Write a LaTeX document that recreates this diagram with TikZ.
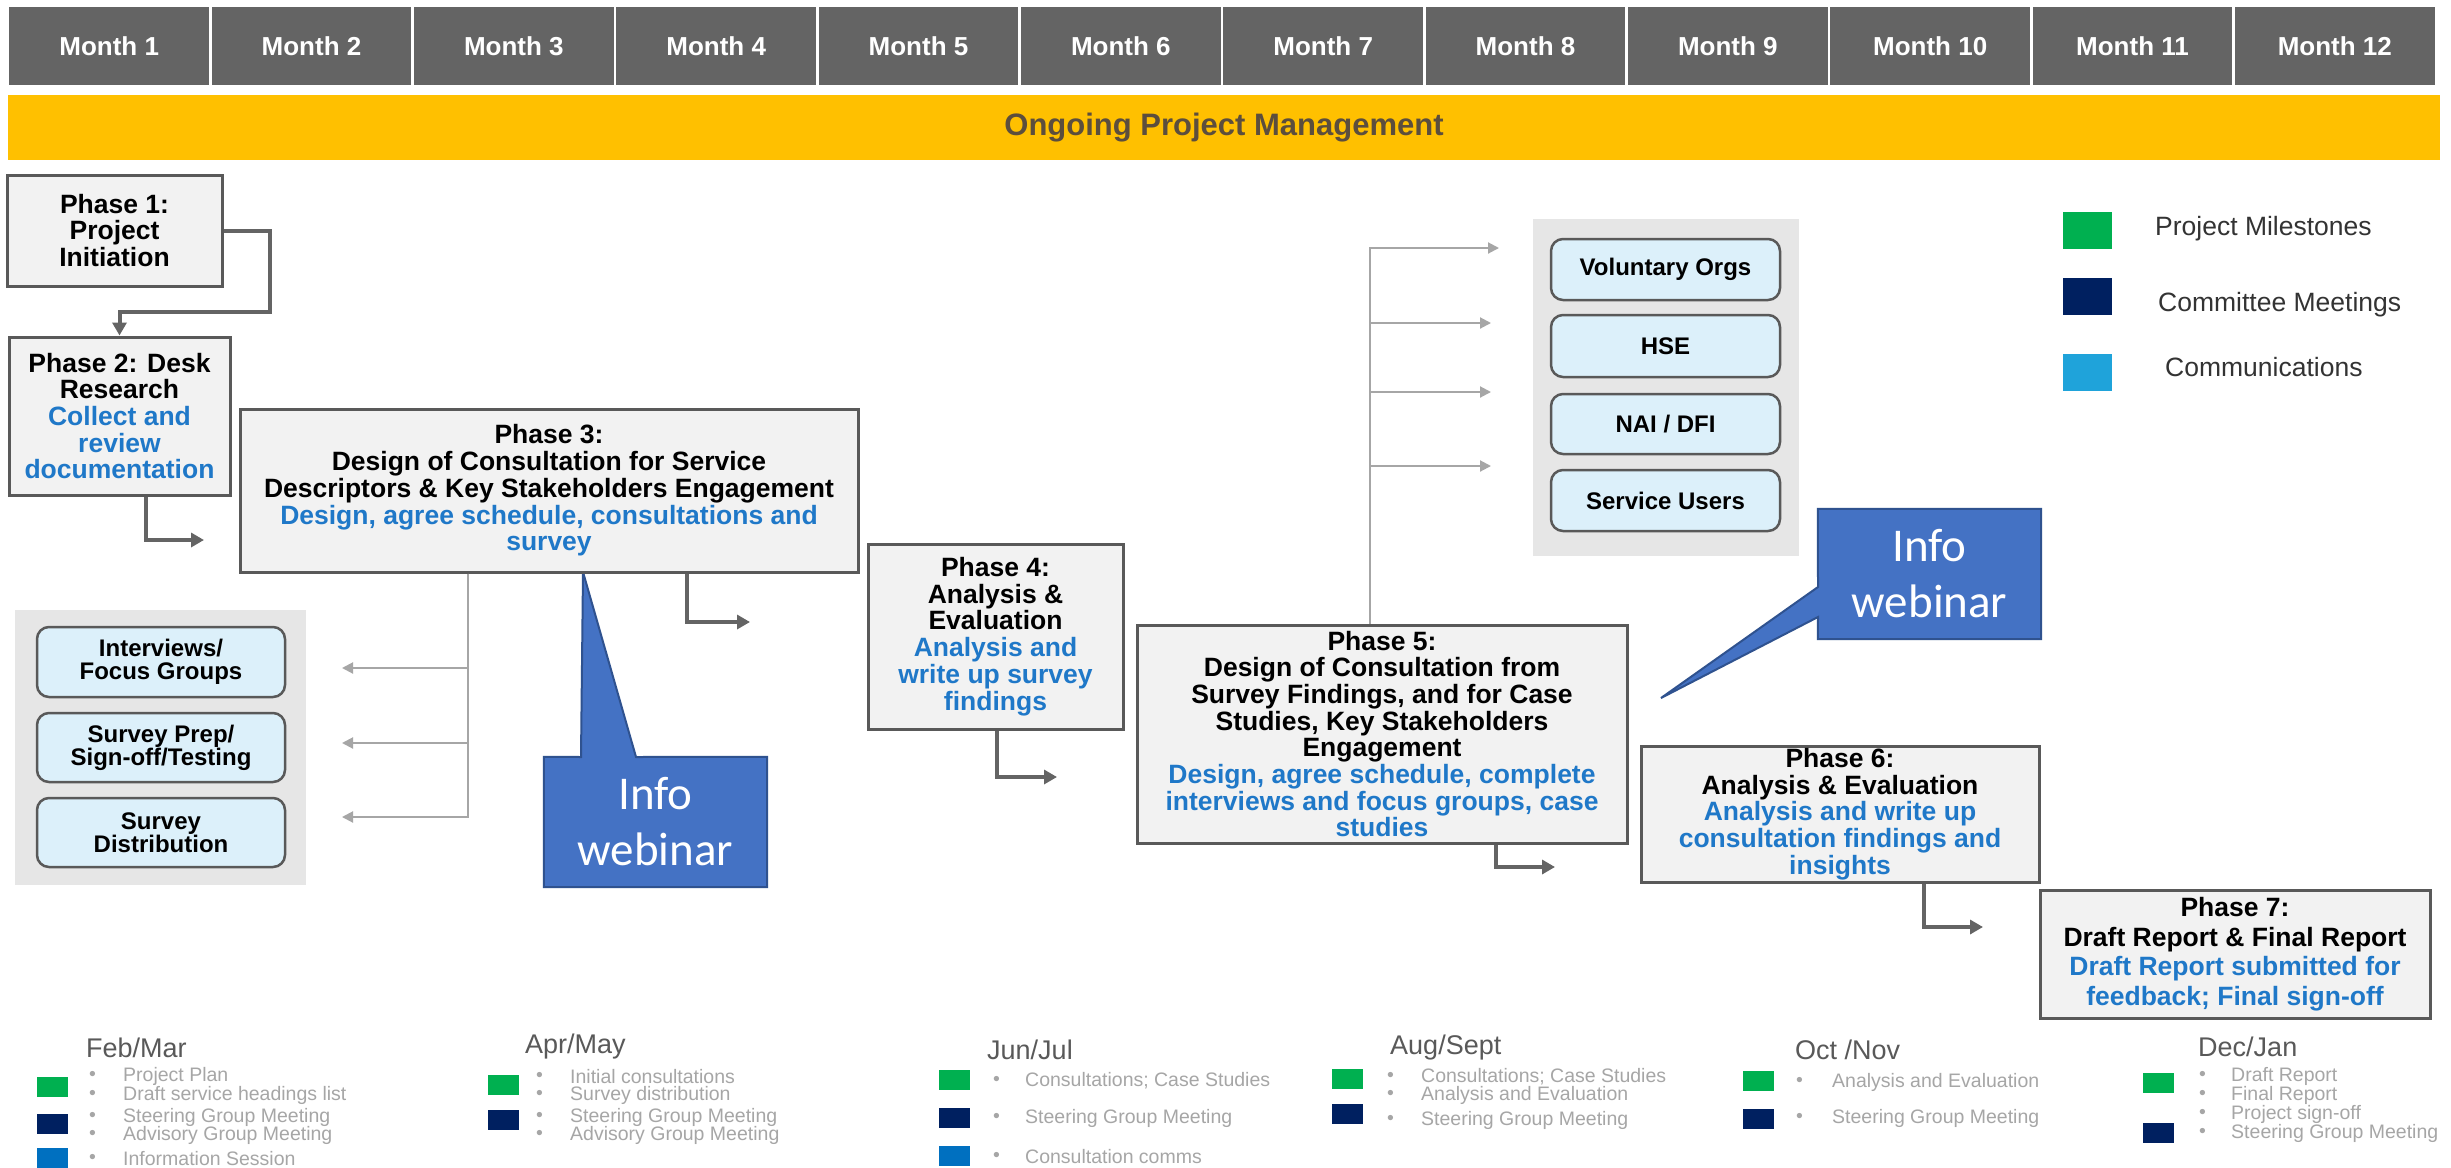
\documentclass[tikz,border=0pt]{standalone}
\usepackage{fontspec}
\setmainfont{Liberation Sans}
\newfontfamily\calib{Carlito}
\usetikzlibrary{arrows.meta,backgrounds}
\definecolor{barGrey}{HTML}{646464}
\definecolor{pmYellow}{HTML}{FFC000}
\definecolor{pmText}{HTML}{5C4E3D}
\definecolor{boxFill}{HTML}{F2F2F2}
\definecolor{boxLine}{HTML}{595959}
\definecolor{descBlue}{HTML}{1F78C8}
\definecolor{subFill}{HTML}{DCF0FA}
\definecolor{panelGrey}{HTML}{E6E6E6}
\definecolor{arrowDark}{HTML}{646464}
\definecolor{arrowLight}{HTML}{A6A6A6}
\definecolor{webBlue}{HTML}{4472C4}
\definecolor{webEdge}{HTML}{2F528F}
\definecolor{msGreen}{HTML}{00B050}
\definecolor{cmNavy}{HTML}{002060}
\definecolor{coBlue}{HTML}{1FA3DA}
\definecolor{isBlue}{HTML}{0070C0}
\definecolor{legText}{HTML}{333333}
\definecolor{titleGrey}{HTML}{595959}
\definecolor{itemGrey}{HTML}{A6A6A6}
\newcommand{\dblue}[1]{\textcolor{descBlue}{#1}}
\begin{document}
\begin{tikzpicture}[x=1pt,y=-1pt,
  month/.style={rectangle, draw=white, line width=2.5pt, fill=barGrey, minimum width=202.33pt, minimum height=80pt, inner sep=0pt, text=white, font=\bfseries\fontsize{26}{26}\selectfont},
  pmbar/.style={rectangle, fill=pmYellow, minimum width=2432pt, minimum height=65pt, inner sep=0pt, text=pmText, font=\bfseries\fontsize{31}{31}\selectfont},
  phase/.style={rectangle, draw=boxLine, line width=3pt, fill=boxFill, inner sep=0pt, align=center, font=\bfseries\fontsize{26.5}{26.7}\selectfont},
  subbox/.style={rectangle, rounded corners=12pt, draw=boxLine, line width=2.5pt, fill=subFill, inner sep=0pt, align=center, font=\bfseries\fontsize{24}{23}\selectfont},
  panel/.style={rectangle, fill=panelGrey, draw=none, inner sep=0pt},
  flow/.style={draw=arrowDark, line width=4pt, -{Triangle[length=13pt,width=14pt]}},
  branch/.style={draw=arrowLight, line width=2pt, -{Triangle[length=11pt,width=11pt]}},
  webinar/.style={rectangle, text=white, align=center, font=\calib\fontsize{47}{56}\selectfont, inner sep=0pt, minimum width=223pt, minimum height=130pt},
  callout/.style={fill=webBlue, draw=webEdge, line width=2pt, line join=miter},
  legsq/.style={rectangle, inner sep=0pt, minimum width=49pt, minimum height=37pt},
  leglabel/.style={anchor=west, inner sep=0pt, text=legText, font=\fontsize{26.5}{26.5}\selectfont},
  smsq/.style={rectangle, inner sep=0pt, minimum width=31pt, minimum height=20pt},
  grptitle/.style={anchor=west, inner sep=0pt, text=titleGrey, font=\fontsize{27}{27}\selectfont},
  grpitem/.style={anchor=west, inner sep=0pt, text=itemGrey, font=\fontsize{19.5}{19.5}\selectfont}
]
\useasboundingbox (0,0) rectangle (2451,1167);

% month bar
\foreach \i in {1,...,12} {
  \node[month] (m\i) at ({8+202.333*(\i-0.5)},46) {Month \i};
}
\node[pmbar] (pm) at (1224,127.5) {Ongoing Project Management};

% phases
\node[phase, minimum width=215pt, minimum height=111pt] (P1) at (114.5,230.5) {Phase 1:\\Project\\Initiation};
\node[phase, minimum width=221pt, minimum height=158pt] (P2) at (119.5,416) {Phase 2: Desk\\Research\\\dblue{Collect and}\\\dblue{review}\\\dblue{documentation}};
\node[phase, minimum width=618pt, minimum height=163pt] (P3) at (549,490.5) {Phase 3:\\Design of Consultation for Service\\Descriptors \& Key Stakeholders Engagement\\\dblue{Design, agree schedule, consultations and}\\\dblue{survey}};
\node[phase, minimum width=255pt, minimum height=185pt] (P4) at (995.5,636.5) {Phase 4:\\Analysis \&\\Evaluation\\\dblue{Analysis and}\\\dblue{write up survey}\\\dblue{findings}};
\node[phase, minimum width=490pt, minimum height=218pt] (P5) at (1382,734) {Phase 5:\\Design of Consultation from\\Survey Findings, and for Case\\Studies, Key Stakeholders\\Engagement\\\dblue{Design, agree schedule, complete}\\\dblue{interviews and focus groups, case}\\\dblue{studies}};
\node[phase, minimum width=398pt, minimum height=136pt] (P6) at (1840,814) {Phase 6:\\Analysis \& Evaluation\\\dblue{Analysis and write up}\\\dblue{consultation findings and}\\\dblue{insights}};
\node[phase, minimum width=390pt, minimum height=128pt, font=\bfseries\fontsize{26.5}{29.5}\selectfont] (P7) at (2235,954) {Phase 7:\\Draft Report \& Final Report\\\dblue{Draft Report submitted for}\\\dblue{feedback; Final sign-off}};

% left panel
\node[panel, minimum width=291pt, minimum height=275pt] (lp) at (160.5,747.5) {};
\node[subbox, minimum width=248pt, minimum height=70pt] (s1) at (161,662) {Interviews/\\Focus Groups};
\node[subbox, minimum width=248pt, minimum height=69pt] (s2) at (161,747.5) {Survey Prep/\\Sign-off/Testing};
\node[subbox, minimum width=248pt, minimum height=69pt] (s3) at (161,832.5) {Survey\\Distribution};

% right panel
\node[panel, minimum width=266pt, minimum height=337pt] (rp) at (1666,387.5) {};
\node[subbox, minimum width=229pt, minimum height=61pt] (r1b) at (1665.5,269.5) {Voluntary Orgs};
\node[subbox, minimum width=229pt, minimum height=62pt] (r2b) at (1665.5,346) {HSE};
\node[subbox, minimum width=229pt, minimum height=60pt] (r3b) at (1665.5,424) {NAI / DFI};
\node[subbox, minimum width=229pt, minimum height=61pt] (r4b) at (1665.5,500.5) {Service Users};

% connector ends
\coordinate (k1) at (270,312);
\coordinate (a23) at (204,540);
\coordinate (a34) at (750,622);
\coordinate (a45) at (1057,777);
\coordinate (a56) at (1555,867);
\coordinate (a67) at (1983,927);
\coordinate (v3) at ([xshift=-81pt]P3.south);
\coordinate (l1) at (342,668);
\coordinate (l2) at (342,743);
\coordinate (l3) at (342,817);
\coordinate (v5) at ([xshift=-12pt]P5.north);
\coordinate (t1) at (1499,248);
\coordinate (t2) at (1491,323);
\coordinate (t3) at (1491,392);
\coordinate (t4) at (1491,466);

% flow arrows
\draw[flow] (P1.east) -| (k1) -| (P2.north);
\draw[flow] ([xshift=26.5pt]P2.south) |- (a23);
\draw[flow] ([xshift=138pt]P3.south) |- (a34);
\draw[flow] ([xshift=1.5pt]P4.south) |- (a45);
\draw[flow] ([xshift=114pt]P5.south) |- (a56);
\draw[flow] ([xshift=84pt]P6.south) |- (a67);

% branches
\draw[branch] (v3) |- (l1);
\draw[branch] (v3) |- (l2);
\draw[branch] (v3) |- (l3);
\draw[branch] (v5) |- (t1);
\draw[branch] (v5) |- (t2);
\draw[branch] (v5) |- (t3);
\draw[branch] (v5) |- (t4);

% callouts
\node[webinar] (W1) at (655.5,822) {Info\\webinar};
\node[webinar] (W2) at (1929.5,574) {Info\\webinar};
\begin{pgfonlayer}{background}
\fill[white] (0,0) rectangle (2451,1167);
\filldraw[callout] (W1.north west) -- (581,757) -- (583,572) -- (636,757) -- (W1.north east) -- (W1.south east) -- (W1.south west) -- cycle;
\filldraw[callout] (W2.north west) -- (W2.north east) -- (W2.south east) -- (W2.south west) -- (1818,617) -- (1661,698) -- (1818,587) -- cycle;
\end{pgfonlayer}

% top-right legend
\node[legsq, fill=msGreen] (q1) at (2087.5,230) {};
\node[legsq, fill=cmNavy] (q2) at (2087.5,296.5) {};
\node[legsq, fill=coBlue] (q3) at (2087.5,372) {};
\node[leglabel] (q1l) at (2155,229) {Project Milestones};
\node[leglabel] (q2l) at (2158,305) {Committee Meetings};
\node[leglabel] (q3l) at (2165,367) {Communications};

% bottom groups
\node[grptitle] (g1) at (86,1048) {Feb/Mar};
\node[smsq, fill=msGreen] (g1a) at (52,1087) {};
\node[smsq, fill=cmNavy] (g1b) at (52,1123.5) {};
\node[smsq, fill=isBlue] (g1c) at (52,1158) {};
\foreach \yy/\txt [count=\k] in {1076/Project Plan, 1095/Draft service headings list, 1117/Steering Group Meeting, 1135/Advisory Group Meeting, 1159/Information Session} {
  \node[grpitem] (g1d\k) at (89,\yy) {•};
  \node[grpitem] (g1t\k) at (123,\yy) {\txt};
}

\node[grptitle] (g2) at (525,1047) {Apr/May};
\node[smsq, fill=msGreen] (g2a) at (503,1085) {};
\node[smsq, fill=cmNavy] (g2b) at (503,1119.5) {};
\foreach \yy/\txt [count=\k] in {1077/Initial consultations, 1095/Survey distribution, 1117/Steering Group Meeting, 1135/Advisory Group Meeting} {
  \node[grpitem] (g2d\k) at (536,\yy) {•};
  \node[grpitem] (g2t\k) at (570,\yy) {\txt};
}

\node[grptitle] (g3) at (987,1050) {Jun/Jul};
\node[smsq, fill=msGreen] (g3a) at (954,1080) {};
\node[smsq, fill=cmNavy] (g3b) at (954,1117.5) {};
\node[smsq, fill=isBlue] (g3c) at (954,1155.5) {};
\foreach \yy/\txt [count=\k] in {1081/Consultations; Case Studies, 1118/Steering Group Meeting, 1157/Consultation comms} {
  \node[grpitem] (g3d\k) at (993,\yy) {•};
  \node[grpitem] (g3t\k) at (1025,\yy) {\txt};
}

\node[grptitle] (g4) at (1390,1048) {Aug/Sept};
\node[smsq, fill=msGreen] (g4a) at (1347.5,1079) {};
\node[smsq, fill=cmNavy] (g4b) at (1347.5,1114) {};
\foreach \yy/\txt [count=\k] in {1077/Consultations; Case Studies, 1095/Analysis and Evaluation, 1120/Steering Group Meeting} {
  \node[grpitem] (g4d\k) at (1387,\yy) {•};
  \node[grpitem] (g4t\k) at (1421,\yy) {\txt};
}

\node[grptitle] (g5) at (1795,1050) {Oct /Nov};
\node[smsq, fill=msGreen] (g5a) at (1758.5,1081) {};
\node[smsq, fill=cmNavy] (g5b) at (1758.5,1118.5) {};
\foreach \yy/\txt [count=\k] in {1082/Analysis and Evaluation, 1118/Steering Group Meeting} {
  \node[grpitem] (g5d\k) at (1796,\yy) {•};
  \node[grpitem] (g5t\k) at (1832,\yy) {\txt};
}

\node[grptitle] (g6) at (2198,1047) {Dec/Jan};
\node[smsq, fill=msGreen] (g6a) at (2158.5,1083) {};
\node[smsq, fill=cmNavy] (g6b) at (2158.5,1133) {};
\foreach \yy/\txt [count=\k] in {1076/Draft Report, 1095/Final Report, 1114/Project sign-off, 1133/Steering Group Meeting} {
  \node[grpitem] (g6d\k) at (2199,\yy) {•};
  \node[grpitem] (g6t\k) at (2231,\yy) {\txt};
}
\end{tikzpicture}
\end{document}
